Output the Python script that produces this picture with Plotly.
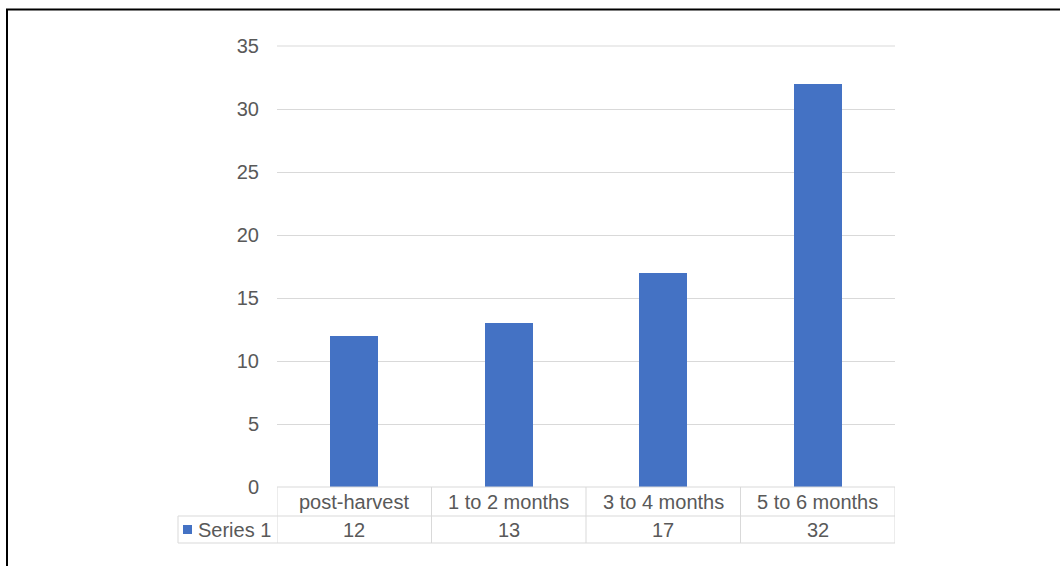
import plotly.graph_objects as go

# Chart data
categories = ["post-harvest", "1 to 2 months", "3 to 4 months", "5 to 6 months"]
values = [12, 13, 17, 32]
series_name = "Series 1"
y_ticks = [0, 5, 10, 15, 20, 25, 30, 35]

W, H = 1060, 566
L, R, T, B = 277, 165, 46, 79          # plot area margins (px)
PW, PH = W - L - R, H - T - B

BAR = "#4472C4"
GRID = "#D9D9D9"
TXT = "#595959"
FONT = "Liberation Sans, Arial, sans-serif"
FS = 20


def px_x(px):
    """Pixel x -> paper x."""
    return (px - L) / PW


def px_y(py):
    """Pixel y -> paper y."""
    return (H - B - py) / PH


fig = go.Figure(
    go.Bar(
        x=list(range(len(categories))),
        y=values,
        name=series_name,
        marker=dict(color=BAR, line=dict(width=0)),
        width=0.31,
        showlegend=False,
    )
)

shapes = []
annotations = []
n = len(categories)

# top gridline sits on the upper edge of the plot area (y axis max), so draw it
# in paper space where it is not clipped
shapes.append(dict(type="line", xref="paper", yref="paper", x0=0, x1=1,
                   y0=1, y1=1, line=dict(color=GRID, width=1), layer="below"))

# Data table under the plot: row positions in pixels
row_top, row_mid, row_bot = 487, 516, 543
left_cell = 178

# horizontal rules
shapes.append(dict(type="line", xref="x", yref="paper", x0=-0.5, x1=n - 0.5,
                   y0=px_y(row_top), y1=px_y(row_top), line=dict(color=GRID, width=1)))
for ypx in (row_mid, row_bot):
    shapes.append(dict(type="line", xref="paper", yref="paper",
                       x0=px_x(left_cell), x1=1, y0=px_y(ypx), y1=px_y(ypx),
                       line=dict(color=GRID, width=1)))
# vertical rules between category columns
for i in range(n + 1):
    shapes.append(dict(type="line", xref="x", yref="paper", x0=i - 0.5, x1=i - 0.5,
                       y0=px_y(row_top), y1=px_y(row_bot), line=dict(color=GRID, width=1)))
# left edge of the series-name cell
shapes.append(dict(type="line", xref="paper", yref="paper",
                   x0=px_x(left_cell), x1=px_x(left_cell),
                   y0=px_y(row_mid), y1=px_y(row_bot), line=dict(color=GRID, width=1)))

# legend key square
shapes.append(dict(type="rect", xref="paper", yref="paper",
                   x0=px_x(183), x1=px_x(192), y0=px_y(534), y1=px_y(525),
                   fillcolor=BAR, line=dict(width=0)))

# category and value cells
for i, (c, v) in enumerate(zip(categories, values)):
    annotations.append(dict(x=i, y=px_y((row_top + row_mid) / 2), xref="x", yref="paper",
                            text=c, showarrow=False, xanchor="center", yanchor="middle",
                            font=dict(family=FONT, size=FS, color=TXT)))
    annotations.append(dict(x=i, y=px_y((row_mid + row_bot) / 2), xref="x", yref="paper",
                            text=str(v), showarrow=False, xanchor="center", yanchor="middle",
                            font=dict(family=FONT, size=FS, color=TXT)))
annotations.append(dict(x=px_x(196), y=px_y((row_mid + row_bot) / 2), xref="paper", yref="paper",
                        text=series_name, showarrow=False, xanchor="left", yanchor="middle",
                        font=dict(family=FONT, size=FS, color=TXT)))

# outer chart frame
shapes.append(dict(type="rect", xref="paper", yref="paper",
                   x0=px_x(7), x1=px_x(W + 10), y0=px_y(H + 10), y1=px_y(9.5),
                   line=dict(color="black", width=2), fillcolor="rgba(0,0,0,0)"))

fig.update_layout(
    width=W, height=H,
    margin=dict(l=L, r=R, t=T, b=B, autoexpand=False),
    paper_bgcolor="white", plot_bgcolor="white",
    font=dict(family=FONT, color=TXT, size=FS),
    bargap=0,
    xaxis=dict(range=[-0.5, n - 0.5], showticklabels=False, showgrid=False,
               zeroline=False, showline=False, ticks=""),
    yaxis=dict(range=[0, 35], tickvals=y_ticks, showgrid=True, gridcolor=GRID,
               gridwidth=1, zeroline=False, showline=False, ticks="",
               ticklabelstandoff=17, tickfont=dict(family=FONT, size=FS, color=TXT)),
    shapes=shapes,
    annotations=annotations,
)

fig.write_html("out.html")
